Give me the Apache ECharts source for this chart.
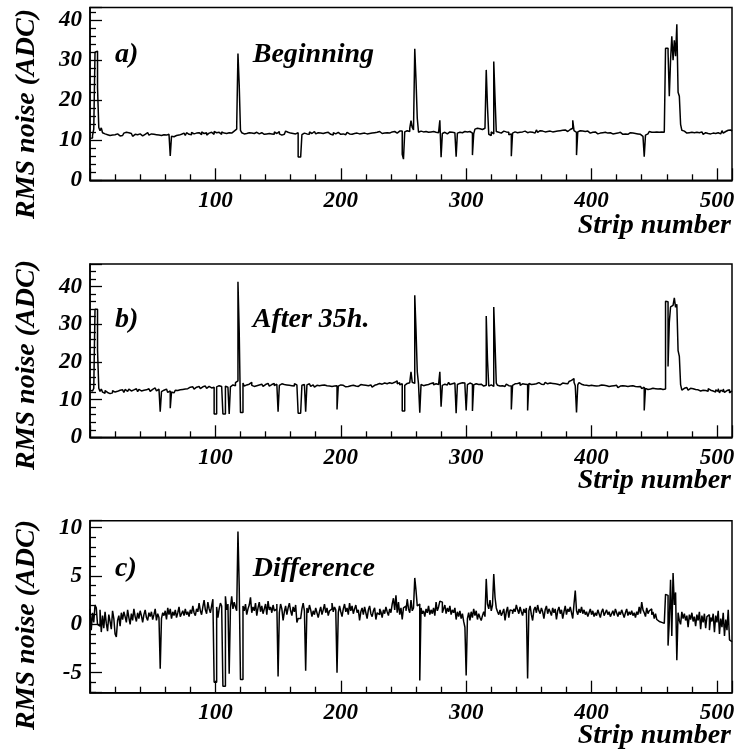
<!DOCTYPE html>
<html>
<head>
<meta charset="utf-8">
<script src="https://cdn.jsdelivr.net/npm/echarts@6/dist/echarts.min.js"></script>
<style>
html, body { margin: 0; padding: 0; background: #fff; }
#chart { width: 738px; height: 752px; }
</style>
</head>
<body>
<div id="chart"></div>
<script>
// RMS noise per strip (ADC counts), 512 strips, one value per strip bin [i, i+1)
const noiseBeginning = [
  10.5, 10.6, 11.2, 12.8, 32.0, 32.3, 23.2, 13.2, 12.4, 13.1, 11.9, 11.6, 12.0, 11.4, 11.7, 11.2,
  11.5, 11.3, 11.0, 11.4, 11.2, 11.6, 11.3, 11.1, 11.5, 11.2, 11.4, 11.8, 12.0, 11.6, 11.9, 11.5,
  11.7, 11.3, 11.0, 11.5, 11.8, 11.4, 11.2, 11.6, 11.3, 11.1, 10.8, 11.5, 11.6, 11.9, 11.5, 11.3,
  11.6, 11.2, 11.5, 11.0, 11.4, 11.7, 11.3, 11.5, 11.2, 11.6, 11.4, 11.0, 11.3, 11.1, 11.5, 11.2,
  6.1, 11.0, 10.9, 11.4, 11.2, 11.6, 11.3, 11.7, 11.5, 11.1, 11.8, 11.6, 11.2, 11.9, 11.5, 11.7,
  11.4, 12.0, 11.6, 11.3, 11.8, 11.5, 11.9, 11.6, 11.4, 12.1, 11.7, 11.5, 11.9, 11.3, 11.8, 11.6,
  12.0, 11.7, 11.5, 12.2, 11.9, 11.6, 12.0, 11.8, 11.5, 12.1, 11.8, 12.0, 11.7, 12.2, 11.9, 12.0,
  11.8, 12.1, 12.3, 11.9, 12.8, 13.6, 31.7, 23.8, 12.5, 11.9, 11.6, 12.0, 11.7, 11.5, 11.9, 11.6,
  11.8, 12.2, 11.7, 11.5, 12.0, 11.8, 11.6, 12.1, 11.9, 11.7, 11.5, 11.8, 11.6, 11.4, 11.7, 11.3,
  11.6, 11.8, 11.5, 12.1, 11.7, 11.4, 12.2, 11.6, 11.3, 11.8, 11.5, 11.7, 12.3, 12.0, 11.6, 11.8,
  11.5, 11.7, 11.9, 11.6, 12.0, 11.9, 5.8, 5.8, 5.8, 11.4, 11.8, 12.0, 11.6, 11.8, 11.5, 12.1,
  11.7, 11.9, 12.2, 11.8, 11.6, 11.9, 11.5, 11.8, 12.0, 11.7, 11.4, 11.9, 11.6, 12.0, 11.8, 11.5,
  11.7, 11.3, 11.9, 11.6, 11.8, 12.0, 11.7, 11.5, 11.9, 11.6, 11.8, 11.4, 11.7, 12.0, 11.6, 11.8,
  11.5, 11.9, 11.7, 11.4, 11.8, 12.1, 11.6, 11.9, 11.7, 11.5, 11.8, 12.0, 11.6, 11.9, 11.7, 12.1,
  11.8, 11.6, 11.9, 11.7, 12.0, 11.8, 12.2, 11.9, 11.7, 12.0, 11.8, 12.1, 11.9, 12.2, 11.8, 12.0,
  12.1, 11.9, 12.2, 12.0, 11.8, 12.1, 12.3, 12.0, 12.3, 6.5, 5.3, 12.1, 12.4, 12.0, 12.2, 13.0,
  14.9, 13.2, 12.6, 32.9, 25.0, 15.5, 12.0, 12.3, 11.8, 12.1, 11.9, 12.2, 11.8, 12.0, 11.7, 12.1,
  11.9, 12.2, 11.8, 12.0, 12.3, 11.9, 12.1, 15.0, 5.8, 11.7, 12.0, 11.8, 11.6, 11.9, 12.1, 11.8,
  12.0, 11.7, 11.9, 12.2, 5.9, 11.8, 12.0, 12.1, 11.9, 12.0, 12.2, 11.8, 12.1, 11.9, 12.2, 12.0,
  11.8, 6.3, 11.6, 12.8, 13.0, 12.5, 12.9, 12.4, 12.7, 12.5, 13.0, 12.6, 27.6, 18.4, 11.5, 11.2,
  12.1, 11.6, 29.7, 20.7, 12.2, 12.0, 12.1, 11.8, 12.0, 12.3, 11.9, 12.1, 11.7, 12.0, 11.4, 11.6,
  6.0, 11.8, 12.1, 12.4, 11.9, 12.2, 12.0, 12.5, 12.1, 11.8, 12.3, 12.0, 11.9, 11.5, 12.1, 12.4,
  12.0, 12.3, 11.8, 12.2, 12.6, 12.0, 12.4, 11.9, 12.3, 12.6, 12.1, 12.4, 12.2, 12.0, 12.3, 12.5,
  12.1, 12.4, 12.2, 12.6, 12.3, 12.1, 12.4, 12.2, 12.5, 12.3, 12.6, 12.4, 12.2, 12.5, 12.7, 12.9,
  13.0, 15.0, 12.4, 12.0, 6.3, 12.1, 12.4, 12.0, 12.3, 11.9, 12.2, 12.0, 12.3, 12.1, 11.8, 12.2,
  12.0, 11.7, 12.1, 11.9, 11.6, 12.0, 11.8, 11.5, 11.9, 11.7, 12.0, 11.6, 11.8, 11.5, 11.9, 11.7,
  11.6, 11.9, 11.7, 11.4, 11.8, 11.6, 12.0, 11.7, 11.5, 11.9, 11.6, 11.8, 11.5, 11.7, 11.9, 11.6,
  11.8, 11.5, 11.7, 11.4, 11.6, 11.2, 11.5, 11.3, 11.0, 11.4, 5.9, 11.3, 11.6, 11.9, 12.2, 12.0,
  12.3, 12.0, 12.4, 12.1, 12.3, 12.0, 12.2, 12.1, 12.3, 12.0, 12.2, 33.0, 33.0, 32.0, 21.0, 30.0,
  36.0, 30.0, 35.0, 31.0, 39.0, 22.0, 21.0, 14.0, 12.5, 12.3, 12.0, 11.8, 12.1, 11.9, 11.7, 12.0,
  11.8, 11.9, 11.6, 12.0, 11.7, 11.9, 11.6, 12.1, 11.8, 11.5, 11.9, 12.0, 11.7, 11.9, 11.6, 12.1,
  11.8, 12.2, 11.7, 12.0, 11.9, 12.3, 11.6, 12.1, 12.4, 11.8, 12.2, 11.9, 12.5, 12.1, 12.6, 12.3
];

const noiseAfter35h = [
  12.5, 12.3, 12.6, 13.0, 34.0, 34.0, 23.2, 13.0, 12.2, 12.8, 12.0, 11.7, 12.4, 11.9, 12.3, 11.6,
  12.1, 11.8, 12.4, 12.0, 11.5, 12.2, 11.9, 12.5, 12.1, 12.6, 12.3, 11.9, 12.7, 12.2, 12.5, 12.8,
  12.3, 12.0, 12.6, 12.2, 12.9, 12.4, 12.1, 12.7, 12.3, 12.8, 12.5, 12.0, 12.6, 12.3, 12.9, 12.4,
  12.2, 12.7, 12.5, 13.1, 12.6, 12.3, 12.8, 12.4, 6.8, 12.1, 12.5, 12.2, 12.8, 12.6, 11.9, 12.3,
  7.7, 12.0, 11.8, 12.2, 12.5, 12.4, 12.8, 12.6, 12.9, 12.7, 13.0, 12.8, 13.2, 12.9, 13.1, 13.3,
  12.9, 13.4, 13.1, 12.8, 13.3, 13.0, 13.5, 13.2, 12.9, 13.4, 13.1, 13.6, 13.2, 13.0, 13.5, 13.3,
  13.1, 13.6, 13.3, 6.2, 6.2, 13.4, 13.7, 13.2, 13.5, 13.9, 6.2, 6.2, 13.6, 13.3, 13.8, 6.2,
  13.4, 13.9, 14.2, 13.7, 14.5, 15.0, 41.3, 28.0, 6.6, 6.6, 14.4, 13.6, 13.9, 13.4, 14.1, 13.7,
  14.6, 13.8, 13.5, 14.0, 13.7, 14.2, 13.9, 13.6, 14.1, 13.8, 13.5, 14.0, 13.7, 14.3, 13.9, 13.6,
  14.0, 13.8, 14.3, 13.7, 14.1, 13.9, 6.8, 13.8, 14.2, 13.7, 14.0, 13.5, 13.9, 14.3, 13.8, 14.1,
  13.7, 14.0, 13.6, 14.2, 13.9, 14.1, 6.4, 6.4, 6.4, 13.8, 14.0, 13.6, 6.8, 13.9, 14.2, 13.7,
  13.5, 13.9, 13.6, 13.3, 13.8, 13.5, 13.7, 13.4, 13.8, 13.6, 13.9, 13.5, 13.7, 14.0, 13.6, 13.8,
  13.5, 13.9, 13.6, 14.0, 13.7, 7.4, 13.6, 13.9, 13.5, 13.8, 13.6, 13.4, 13.8, 13.5, 13.9, 13.7,
  13.4, 13.8, 14.1, 13.6, 13.9, 13.5, 13.7, 14.0, 13.6, 13.9, 13.5, 13.8, 13.4, 13.7, 13.5, 13.9,
  13.6, 13.3, 13.8, 13.5, 14.0, 13.7, 14.3, 13.8, 14.1, 13.7, 14.4, 13.9, 14.2, 13.8, 14.5, 14.0,
  14.3, 13.9, 14.6, 14.1, 15.0, 14.2, 14.5, 13.9, 14.2, 7.0, 7.0, 13.8, 14.3, 14.0, 14.5, 14.2,
  17.4, 14.6, 14.3, 37.7, 28.5, 17.4, 14.1, 6.5, 14.0, 13.7, 14.2, 13.9, 14.4, 14.0, 13.8, 14.3,
  14.0, 14.5, 13.9, 14.2, 14.6, 14.0, 14.3, 17.4, 8.1, 13.8, 14.1, 14.5, 13.9, 14.3, 14.6, 14.0,
  14.2, 13.8, 14.4, 14.1, 6.4, 14.0, 14.3, 13.9, 14.5, 14.1, 14.4, 13.8, 7.1, 14.0, 14.4, 13.9,
  14.1, 7.0, 13.9, 14.2, 13.8, 14.0, 13.7, 14.1, 13.9, 13.6, 14.0, 13.8, 32.2, 20.5, 13.6, 13.9,
  14.0, 13.5, 34.6, 25.0, 14.4, 13.8, 13.6, 14.0, 13.7, 13.9, 13.5, 13.8, 14.1, 13.7, 13.9, 13.6,
  7.4, 13.8, 14.2, 13.9, 14.3, 14.0, 14.5, 13.8, 14.2, 14.6, 14.1, 13.7, 14.0, 7.1, 14.3, 14.0,
  14.4, 14.1, 14.6, 14.2, 14.0, 14.5, 14.8, 14.1, 14.4, 14.0, 14.3, 14.6, 14.2, 14.0, 14.4, 14.1,
  14.3, 14.0, 14.2, 14.5, 14.1, 14.3, 13.9, 14.2, 14.4, 14.0, 14.3, 14.6, 14.2, 14.5, 14.8, 15.1,
  15.3, 15.6, 14.6, 13.7, 6.6, 13.9, 14.5, 14.1, 14.3, 13.9, 14.2, 13.8, 14.1, 13.7, 14.0, 13.8,
  14.1, 13.7, 13.9, 13.6, 14.0, 13.7, 13.5, 13.9, 13.6, 13.8, 13.4, 13.7, 13.9, 13.5, 13.8, 13.6,
  13.3, 13.7, 13.4, 13.8, 13.5, 13.2, 13.6, 13.4, 13.7, 13.3, 13.6, 13.9, 13.5, 13.2, 13.6, 13.4,
  13.7, 13.3, 13.5, 13.8, 13.4, 13.1, 13.5, 13.2, 12.9, 13.3, 7.1, 13.0, 12.7, 13.1, 12.8, 12.6,
  13.0, 12.7, 12.9, 12.6, 12.8, 12.5, 12.9, 12.6, 12.7, 12.5, 12.8, 36.1, 36.0, 18.8, 30.5, 34.6,
  35.0, 35.3, 37.0, 34.5, 35.3, 23.0, 21.5, 14.0, 12.5, 13.0, 12.7, 13.2, 12.8, 12.5, 13.0, 12.6,
  12.9, 12.4, 12.7, 13.1, 12.6, 12.9, 12.3, 12.8, 12.5, 13.0, 12.4, 12.7, 12.2, 12.9, 12.5, 12.8,
  12.3, 12.7, 12.0, 12.6, 12.2, 12.9, 11.8, 12.5, 12.1, 12.8, 11.9, 12.4, 12.0, 12.6, 11.8, 12.3
];

const noiseDifference = [
  1.6, -0.6, 1.2, 0.2, 2.0, 1.7, 0.0, -0.2, 1.5, -0.8, 0.9, -0.4, 1.3, 0.1, -0.7, 1.0,
  0.3, -0.5, 1.4, 0.6, -1.0, -1.3, 0.4, 0.9, -0.2, 1.2, 0.5, 1.3, 0.8, 0.2, 1.5, 0.7,
  0.0, 1.1, 0.4, 1.6, 0.8, 0.3, 1.2, 0.6, 1.4, 0.9, 0.2, 1.0, 1.5, 0.7, 0.4, 1.2,
  0.8, 1.3, 0.5, 1.0, 1.6, 0.4, 1.1, 0.7, -4.6, 0.6, 1.2, 0.9, 1.4, 0.5, 1.7, 1.0,
  1.6, 0.6, 1.3, 0.9, 1.5, 0.7, 1.2, 1.8, 0.8, 1.1, 1.4, 0.9, 1.6, 1.0, 1.3, 0.8,
  1.5, 1.1, 1.9, 1.2, 0.9, 1.6, 1.3, 2.2, 1.4, 1.0, 1.8, 2.5, 1.5, 1.1, 2.3, 1.6,
  1.2, 1.9, 2.6, -6.0, -6.0, 1.8, 0.7, 1.6, 2.2, 1.9, -6.4, -6.4, 2.9, 1.5, 2.1, -5.1,
  1.7, 2.9, 1.6, 2.3, 1.8, 1.4, 9.6, 3.9, -5.7, -5.7, 1.9, 1.4, 2.1, 1.0, 1.6, 2.0,
  2.8, 1.2, 1.8, 1.4, 2.2, 0.9, 1.7, 2.3, 1.3, 1.9, 1.1, 1.6, 2.1, 1.0, 2.4, 1.5,
  1.8, 1.2, 2.0, 1.4, 1.6, 2.1, -5.4, 1.2, 2.1, 1.6, 0.4, 1.3, 1.9, 1.0, 1.7, 2.2,
  1.4, 0.9, 1.8, 1.3, 2.0, 0.2, 0.6, 0.6, 0.6, 1.6, 2.2, 1.4, -4.8, 1.7, 1.2, 2.0,
  1.5, 0.8, 1.4, 1.0, 1.7, 1.2, 0.7, 1.3, 1.8, 1.0, 1.5, 2.1, 1.2, 1.7, 0.9, 1.4,
  1.6, 2.2, 1.3, 1.8, 1.5, -5.0, 1.2, 1.9, 1.3, 0.8, 1.6, 2.1, 1.3, 1.7, 1.0, 2.2,
  1.4, 1.9, 1.1, 1.6, 2.0, 1.2, 1.5, 0.4, 1.3, 1.7, 1.0, 1.8, 1.2, 0.6, 1.5, 1.9,
  1.1, 0.8, 1.4, 1.7, 0.5, 1.2, 1.0, 1.6, 1.3, 0.7, 1.5, 1.1, 1.8, 1.3, 0.9, 1.6,
  1.2, 2.1, 2.7, 1.5, 3.0, 1.2, 2.3, 1.0, 1.7, 0.5, 1.7, 1.9, 1.4, 2.6, 1.6, 1.2,
  2.5, 1.4, 1.7, 4.8, 3.5, 1.9, 2.1, -5.8, 1.7, 1.1, 1.4, 0.8, 1.6, 1.2, 1.9, 1.0,
  1.5, 1.1, 1.7, 0.9, 2.3, 1.4, 1.8, 2.4, 2.3, 1.2, 1.6, 2.0, 1.1, 1.7, 1.3, 1.9,
  1.0, 1.5, 1.2, 1.7, 0.5, 1.3, 0.8, 1.4, 0.6, 1.1, 0.3, -0.3, -5.3, 0.6, 1.2, 0.4,
  1.3, 0.7, 1.6, 0.9, 1.4, 0.5, 1.1, 0.7, 0.4, 0.9, 1.3, 0.8, 4.7, 2.1, 1.6, 2.5,
  1.4, 2.0, 5.2, 2.8, 1.7, 1.3, 1.0, 1.5, 0.9, 1.2, 1.6, 0.4, 1.3, 1.8, 0.7, 1.5,
  1.4, 1.1, 1.6, 1.3, 2.0, 1.5, 1.1, 1.8, 1.3, 0.9, 1.6, 1.2, 1.7, -5.6, 1.4, 1.9,
  1.0, 0.4, 1.5, 1.8, 1.2, 2.0, 1.4, 1.1, 1.7, 1.3, 0.6, 1.5, 1.9, 1.1, 1.6, 1.3,
  0.9, 1.7, 1.2, 1.6, 0.5, 1.4, 1.8, 1.1, 1.5, 0.6, 1.3, 1.9, 1.0, 1.6, 1.3, 1.8,
  1.2, 0.6, 2.1, 3.5, 1.4, 1.0, 1.6, 1.2, 1.8, 1.1, 1.5, 1.0, 1.3, 0.8, 1.2, 1.6,
  1.0, 1.4, 0.8, 1.2, 0.9, 1.5, 1.1, 0.7, 1.3, 1.6, 0.9, 1.2, 1.5, 1.0, 1.3, 0.8,
  1.1, 1.4, 0.9, 1.6, 1.2, 0.8, 1.3, 1.0, 1.5, 1.1, 0.7, 1.2, 1.6, 0.9, 1.3, 1.0,
  1.4, 0.9, 1.2, 0.7, 1.3, 1.0, 1.8, 1.1, 2.3, 1.5, 1.2, 0.8, 1.7, 1.1, 1.4, 1.6,
  1.0, 1.3, 0.6, 1.1, 0.5, 0.3, 0.4, 0.2, 0.3, 0.1, 0.0, 3.1, 3.0, -2.2, 0.3, 4.6,
  -1.2, 5.3, 2.0, 3.3, -3.7, 1.2, 0.4, 0.0, 1.3, 0.6, 1.1, 0.4, 0.9, -0.3, 1.0, 0.5,
  1.2, 0.3, 0.8, -0.2, 1.0, 0.4, 1.3, -0.5, 0.9, 0.2, 1.1, -0.4, 0.8, 1.0, -0.6, 0.7,
  0.3, 1.1, -0.8, 0.9, 0.2, 1.4, -1.0, 0.6, -0.3, 1.2, -1.2, 0.5, -0.6, 1.5, -1.6, -1.8
];

const panelTags = ['a)', 'b)', 'c)'];
const panelTitles = ['Beginning', 'After 35h.', 'Difference'];
const xTitle = 'Strip number';
const yTitle = 'RMS noise (ADC)';
const stripRange = [0, 512];
const yRanges = [[0, 43.2], [0, 46], [-7.07, 10.72]];

// page layout (pixels)
const plotLeft = 90, plotWidth = 642;
const plotTops = [7.5, 264, 520.7];
const plotHeights = [172.8, 173.3, 172];
const tagMiddles = [55, 320, 569];
const xTitleMiddles = [226, 481, 736];
const yTitleTops = [9, 260, 520];

const FONT_FAMILY = '"Liberation Serif", "Times New Roman", serif';
const BLACK = '#000';

// histogram outline: point at each bin's left edge, plus the closing right edge
function histPoints(values) {
  const pts = values.map((v, i) => [i, v]);
  pts.push([values.length, values[values.length - 1]]);
  return pts;
}

const seriesValues = [noiseBeginning, noiseAfter35h, noiseDifference];

const grid = [], xAxis = [], yAxis = [], series = [], graphic = [];

const tickStyle = { color: BLACK, width: 1.3 };
const labelStyle = {
  color: BLACK, fontFamily: FONT_FAMILY, fontWeight: 'bold', fontStyle: 'italic', fontSize: 23
};

for (let p = 0; p < 3; p++) {
  grid.push({
    left: plotLeft, top: plotTops[p], width: plotWidth, height: plotHeights[p],
    show: true, borderColor: BLACK, borderWidth: 1.5, backgroundColor: 'transparent'
  });
  xAxis.push({
    type: 'value', gridIndex: p, min: stripRange[0], max: stripRange[1], interval: 100,
    axisLine: { show: true, onZero: false, lineStyle: { color: BLACK, width: 1.5 } },
    axisTick: { show: true, inside: true, length: 12, lineStyle: tickStyle },
    minorTick: { show: true, splitNumber: 5, length: 6, lineStyle: tickStyle },
    splitLine: { show: false },
    axisLabel: Object.assign({
      margin: 9,
      formatter: v => (v > 0 && v % 100 === 0) ? String(v) : ''
    }, labelStyle)
  });
  const yCommon = {
    type: 'value', gridIndex: p, min: yRanges[p][0], max: yRanges[p][1],
    axisLine: { show: true, onZero: false, lineStyle: { color: BLACK, width: 1.5 } },
    axisTick: { show: true, inside: true, length: 12, lineStyle: tickStyle },
    minorTick: { show: true, splitNumber: 5, length: 6, lineStyle: tickStyle },
    splitLine: { show: false }
  };
  if (p < 2) {
    yAxis.push(Object.assign({}, yCommon, {
      interval: 10,
      axisLabel: Object.assign({
        margin: 8,
        formatter: v => (Math.abs(v % 10) < 1e-9) ? String(v) : ''
      }, labelStyle)
    }));
  } else {
    yAxis.push(Object.assign({}, yCommon, {
      splitNumber: 4,
      axisLabel: Object.assign({
        margin: 8,
        formatter: v => (Number.isInteger(v) && v % 5 === 0) ? String(v) : ''
      }, labelStyle)
    }));
  }
  series.push({
    type: 'line', xAxisIndex: p, yAxisIndex: p, step: 'end',
    data: histPoints(seriesValues[p]),
    symbol: 'none', showSymbol: false, clip: true,
    lineStyle: { color: BLACK, width: 1.5 },
    emphasis: { disabled: true }, silent: true
  });

  const big = 'italic bold 28px ' + FONT_FAMILY;
  graphic.push({
    type: 'text', x: 115, y: tagMiddles[p],
    style: { text: panelTags[p], font: big, fill: BLACK, align: 'left', verticalAlign: 'middle' }
  });
  graphic.push({
    type: 'text', x: 252.7, y: tagMiddles[p],
    style: { text: panelTitles[p], font: big, fill: BLACK, align: 'left', verticalAlign: 'middle' }
  });
  graphic.push({
    type: 'text', x: 731, y: xTitleMiddles[p],
    style: { text: xTitle, font: big, fill: BLACK, align: 'right', verticalAlign: 'middle' }
  });
  graphic.push({
    type: 'text', x: 27, y: yTitleTops[p], rotation: Math.PI / 2,
    style: { text: yTitle, font: big, fill: BLACK, align: 'right', verticalAlign: 'middle' }
  });
}

const chart = echarts.init(document.getElementById('chart'), null, { renderer: 'canvas' });
chart.setOption({
  animation: false,
  backgroundColor: '#fff',
  grid, xAxis, yAxis, series, graphic
});
</script>
</body>
</html>
